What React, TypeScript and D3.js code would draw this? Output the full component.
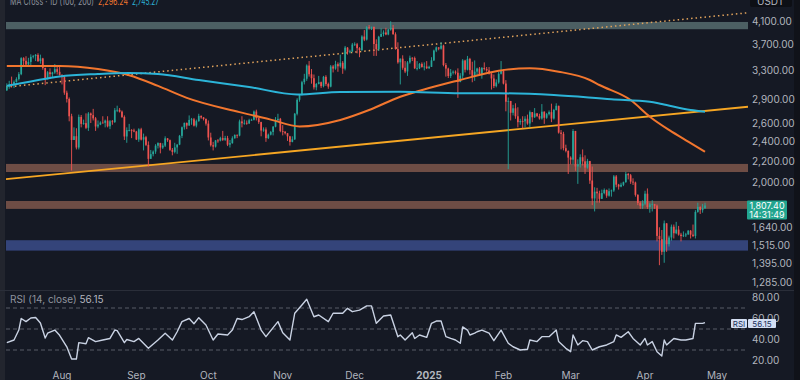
import React from 'react';
import * as d3 from 'd3';

// ---------- DATA ----------
const startDate = '2024-07-09';
const firstOpen = 3020;

const closes = [
  3066,3100,3098,3135,3175,3245,3485,3444,3387,3427,3505,3517,3536,3440,3481,3336,3173,3273,3245,3269,3318,3279,3232,
  3203,2988,2906,2690,2420,2461,2340,2682,2600,2609,2555,2723,2703,2665,2570,2592,2615,2612,2638,2572,2630,2622,2763,2768,2746,2682,2458,2529,2529,2525,2513,
  2425,2538,2424,2450,2368,2225,2272,2298,2359,2387,2340,2360,2438,2418,2316,2295,2341,2371,2465,2561,2612,2580,2646,2653,2580,2632,2694,2676,2657,2603,
  2447,2364,2350,2415,2414,2440,2422,2440,2370,2386,2438,2476,2468,2629,2607,2612,2604,2643,2648,2747,2667,2621,2524,2536,2440,2478,2508,2568,2640,2659,2519,
  2512,2494,2459,2399,2427,2720,2895,2961,3131,3180,3372,3244,3187,3060,3106,3131,3076,3207,3106,3070,3358,3327,3393,3361,3414,3326,3653,3580,3591,3703,
  3707,3644,3614,3838,3786,4002,3997,4007,3712,3627,3834,3881,3908,3873,3960,3986,3877,3629,3421,3477,3339,3284,3420,3491,3487,3332,3332,3397,3351,3358,3333,
  3353,3451,3605,3656,3635,3686,3380,3327,3218,3267,3281,3266,3135,3224,3449,3310,3474,3304,3214,3282,3328,3240,3336,3320,3300,3255,3183,3077,3128,3251,3300,
  3112,2870,2880,2732,2787,2690,2620,2633,2630,2660,2604,2740,2678,2724,2692,2663,2745,2672,2716,2740,2663,2766,2818,2501,2487,2333,2305,2237,
  2217,2519,2150,2171,2241,2200,2140,2203,2020,1865,1922,1908,1862,1910,1937,1888,1926,1932,2057,1983,1966,1982,2005,2080,2068,2010,2002,1895,1827,1805,1822,
  1905,1795,1816,1817,1806,1578,1555,1470,1669,1521,1567,1644,1597,1623,1587,1577,1582,1589,1615,1587,1578,1756,1796,1770,1786,1807,
];

const highs = [
  3115,3150,3210,3155,3200,3275,3500,3500,3515,3490,3545,3535,3550,3562,3540,3490,3340,3290,3330,3280,3395,3360,3350,
  3245,3220,3015,2925,2720,2560,2550,2710,2705,2650,2725,2740,2735,2780,2680,2640,2630,2690,2650,2690,2645,2645,2790,2820,2790,2760,2700,2560,2600,2540,2545,
  2520,2550,2555,2490,2465,2405,2315,2310,2375,2395,2390,2385,2460,2440,2425,2335,2390,2375,2475,2570,2615,2615,2700,2670,2670,2650,2720,2700,2680,2665,
  2640,2500,2400,2420,2430,2455,2520,2465,2465,2420,2460,2480,2480,2650,2690,2650,2640,2660,2660,2760,2770,2670,2625,2560,2560,2490,2520,2575,2680,2720,2670,
  2585,2515,2495,2465,2460,2730,2915,2970,3150,3250,3390,3440,3320,3240,3120,3220,3140,3220,3230,3125,3380,3380,3445,3420,3540,3440,3680,3660,3620,3730,
  3740,3730,3660,3860,3950,4020,4040,4010,4010,3790,3850,3980,3945,3990,3970,4107,4040,3910,3740,3480,3530,3440,3440,3525,3500,3510,3440,3410,3420,3420,3440,
  3370,3500,3620,3670,3660,3745,3700,3410,3340,3320,3300,3300,3330,3260,3470,3460,3520,3490,3430,3450,3340,3350,3350,3420,3350,3350,3260,3240,3170,3280,3440,
  3320,3160,2925,2880,2830,2850,2800,2660,2690,2690,2710,2760,2740,2790,2730,2720,2840,2750,2730,2760,2845,2780,2850,2820,2530,2510,2370,2310,
  2250,2540,2520,2220,2270,2320,2260,2225,2205,2150,1960,1955,1930,1940,1950,1940,1950,1940,2070,2070,1990,2000,2010,2100,2090,2080,2040,2010,1900,1840,1850,
  1930,1950,1830,1850,1820,1815,1640,1620,1690,1670,1580,1660,1660,1680,1650,1600,1610,1600,1620,1620,1660,1770,1830,1800,1820,1830,
];

const lows = [
  3010,3040,3060,3050,3125,3155,3230,3355,3380,3370,3380,3480,3440,3425,3400,3310,3090,3170,3200,3190,3250,3240,3225,
  3100,2960,2860,2630,2112,2420,2320,2320,2560,2590,2540,2520,2610,2640,2520,2550,2585,2605,2560,2560,2540,2590,2610,2740,2735,2670,2420,2390,2515,2440,2505,
  2420,2400,2415,2310,2355,2150,2225,2250,2275,2330,2280,2325,2345,2400,2305,2260,2280,2275,2365,2440,2535,2540,2580,2590,2570,2560,2625,2660,2640,2580,
  2415,2350,2310,2340,2390,2405,2410,2410,2355,2340,2380,2435,2440,2460,2560,2590,2590,2600,2635,2640,2640,2600,2460,2510,2400,2430,2470,2470,2560,2640,2505,
  2470,2480,2410,2360,2395,2420,2700,2870,2950,3100,3150,3210,3110,3030,3020,3100,3050,3060,3080,3040,3060,3270,3310,3280,3340,3250,3300,3540,3560,3580,
  3680,3560,3500,3600,3760,3770,3960,3950,3520,3520,3600,3830,3840,3860,3860,3940,3870,3620,3400,3100,3310,3260,3220,3400,3440,3320,3300,3320,3340,3300,3320,
  3320,3350,3440,3580,3610,3620,3360,3210,3190,3190,3240,3240,2920,3130,3180,3270,3300,3240,3130,3150,3220,3230,3180,3300,3280,3240,3030,3050,3060,3110,3240,
  3100,2750,2125,2640,2700,2660,2560,2590,2550,2560,2590,2560,2620,2670,2680,2650,2650,2600,2660,2700,2620,2650,2760,2490,2320,2310,2290,2080,
  2170,2170,2110,1990,2140,2160,2080,2130,1990,1810,1760,1830,1830,1860,1900,1870,1880,1880,1920,1960,1940,1960,1970,2000,2030,1990,1980,1880,1810,1780,1780,
  1810,1780,1750,1760,1780,1540,1385,1450,1400,1470,1505,1545,1560,1590,1580,1540,1570,1570,1585,1560,1570,1560,1750,1740,1750,1780,
];

const ma100Dates = ['2024-07-09','2024-07-31','2024-08-16','2024-08-29','2024-09-10','2024-09-22','2024-10-14','2024-10-27','2024-11-08','2024-11-25','2024-12-07','2024-12-20','2025-01-01','2025-01-14','2025-01-30','2025-02-12','2025-02-24','2025-03-09','2025-03-13','2025-03-26','2025-04-03','2025-04-11','2025-04-19','2025-04-26'];
const ma100Values = [3366,3366,3320,3230,3080,2920,2740,2650,2570,2646,2766,2935,3051,3162,3296,3331,3281,3162,3092,2892,2685,2531,2402,2296.24];

const ma200Dates = ['2024-07-09','2024-07-19','2024-07-31','2024-08-16','2024-08-29','2024-09-10','2024-09-27','2024-10-18','2024-11-07','2024-11-25','2024-12-20','2025-01-14','2025-01-30','2025-02-22','2025-03-18','2025-04-03','2025-04-08','2025-04-20','2025-04-26'];
const ma200Values = [3080,3141,3213,3248,3262,3248,3162,3065,2965,2997,3002,2980,2980,2957,2902,2870,2841,2766,2745.27];

const zoneLows = [3965, 2098, 1780, 1478];
const zoneHighs = [4095, 2175, 1844, 1548];

const trendDates = ['2024-07-14', '2025-05-13'];
const trendPrices = [2043, 2804];
const dottedDates = ['2024-07-09', '2025-05-13'];
const dottedPrices = [3065, 4262];

const priceTicks = [4100, 3700, 3300, 2900, 2600, 2400, 2200, 2000, 1640, 1515, 1395, 1285];
const rsiTicks = [80, 60, 40, 20];
const rsiLevels = [70, 50, 30];
const monthLabels = ['Aug', 'Sep', 'Oct', 'Nov', 'Dec', '2025', 'Feb', 'Mar', 'Apr', 'May'];
const monthDates = ['2024-08-01','2024-09-01','2024-10-01','2024-11-01','2024-12-01','2025-01-01','2025-02-01','2025-03-01','2025-04-01','2025-05-01'];

const rsiIdx = [0,3,5,6,8,10,12,14,16,17,20,22,25,27,29,30,33,34,37,40,43,45,46,49,50,53,55,59,63,66,69,71,73,76,78,80,83,86,88,92,94,96,98,101,103,106,108,113,115,118,120,123,125,128,130,134,136,140,142,144,147,150,152,154,157,160,163,164,166,169,170,172,175,177,179,181,183,185,187,189,190,192,193,195,196,198,201,203,206,209,211,214,217,218,221,223,226,229,230,233,235,236,238,240,242,244,247,250,253,254,256,259,261,264,266,267,269,271,273,274,275,278,281,283,286,287,288,290,291];
const rsiValues = [37,39.5,49,60,57,60.5,61,55.7,41.4,46,49,44,33,21.4,21.4,37,36,41.7,38,39.5,41,49,48.4,37,40,38,41,31.6,39.5,46,39.5,47.4,57,60,55,60.8,53.8,39.5,45.2,44.3,49,60,59,61.7,66.5,49,42.7,57,46.5,39.5,65,72.9,78.3,61.7,63.3,57,65,65,69.7,66.5,68,72,72,55.4,62.4,63.3,42.7,44.3,39.5,46.5,41,44.3,42,55.4,57.6,57.6,42.7,41,39.5,36.4,52,49,44.3,46,47.4,49,46,38.9,49,36.4,33.1,30,30.7,39.5,38,42.7,42.7,49,38,31.6,28.4,44.3,34.8,38.9,38,30,33.1,34.8,38,44.3,42,47.4,41,34.8,41,34.8,38,28.4,24.3,39.5,34.8,41,39.5,39.5,41,55.4,55.4,55.4,56.15];

const lastPrice = '1,807.40';
const countdown = '14:31:49';
const rsiLast = '56.15';
const ma100Label = '2,296.24';
const ma200Label = '2,745.27';

// ---------- LAYOUT ----------
const W = 800, H = 380;
const plotLeft = 6, plotRight = 748;
const paneBottom = 290;
const C = {
  bg: '#151924', up: '#26a69a', down: '#ef5350', ma100: '#f2762e', ma200: '#2cb4d8',
  trend: '#f6a623', dotted: '#e3a45c', text: '#b2b5be', sub: '#8f939d',
  zones: ['#4c5f63', '#6e4d45', '#6e4d45', '#34447a'],
};

const parse = (s: string) => new Date(s + 'T00:00:00Z');

export default function App() {
  const x = d3.scaleUtc().domain([parse('2024-08-01'), parse('2025-05-01')]).range([62, 717]);
  const y = d3.scaleLog().domain([1285, 4100]).range([282, 21.7]);
  const ry = d3.scaleLinear().domain([20, 80]).range([360.5, 297.5]);
  const start = parse(startDate);
  const dayAt = (i: number) => d3.utcDay.offset(start, i);

  const candles = closes.map((c, i) => {
    const o = i === 0 ? firstOpen : closes[i - 1];
    const h = Math.max(highs[i], o, c);
    const l = Math.min(lows[i], o, c);
    return { x: x(dayAt(i)), o, h, l, c };
  });

  const extLine = (dates: string[], prices: number[]) => {
    const x0 = x(parse(dates[0])), y0 = y(prices[0]);
    const x1 = x(parse(dates[1])), y1 = y(prices[1]);
    const k = (y1 - y0) / (x1 - x0);
    return { x1: plotLeft, y1: y0 + (plotLeft - x0) * k, x2: plotRight, y2: y0 + (plotRight - x0) * k };
  };
  const trend = extLine(trendDates, trendPrices);
  const dotted = extLine(dottedDates, dottedPrices);

  const maLine = d3.line<[string, number]>()
    .x(d => x(parse(d[0])))
    .y(d => y(d[1]))
    .curve(d3.curveMonotoneX);
  const ma100Path = maLine(ma100Dates.map((d, i) => [d, ma100Values[i]] as [string, number])) || '';
  const ma200Path = maLine(ma200Dates.map((d, i) => [d, ma200Values[i]] as [string, number])) || '';

  const rsiPath = d3.line<number>()
    .x((_, i) => x(dayAt(rsiIdx[i])))
    .y(v => ry(v))(rsiValues) || '';

  const font = 'Inter, "Noto Sans", sans-serif';

  return (
    <svg width={W} height={H} style={{ position: 'absolute', left: 0, top: 0, background: C.bg }} fontFamily={font}>
      <defs>
        <clipPath id="pane"><rect x={plotLeft} y={0} width={plotRight - plotLeft} height={paneBottom} /></clipPath>
      </defs>
      <rect x={0} y={0} width={W} height={H} fill={C.bg} />
      <rect x={0} y={0} width={5} height={H} fill="#22252e" />
      <line x1={0} x2={W} y1={paneBottom + 0.5} y2={paneBottom + 0.5} stroke="#2a2e39" />
      <rect x={794} y={0} width={6} height={H} fill="#101219" />

      <g clipPath="url(#pane)">
        {zoneLows.map((lo, i) => (
          <rect key={'z' + i} x={plotLeft} width={plotRight - plotLeft} y={y(zoneHighs[i])} height={y(lo) - y(zoneHighs[i])} fill={C.zones[i]} />
        ))}
        <line {...dotted} stroke={C.dotted} strokeWidth={1.5} strokeDasharray="1.5 3" />
        <line {...trend} stroke={C.trend} strokeWidth={1.8} />
        {candles.map((d, i) => {
          const col = d.c >= d.o ? C.up : C.down;
          const top = y(Math.max(d.o, d.c));
          const bot = y(Math.min(d.o, d.c));
          return (
            <g key={i}>
              <line x1={d.x} x2={d.x} y1={y(d.h)} y2={y(d.l)} stroke={col} strokeWidth={0.9} />
              <rect x={d.x - 0.85} width={1.7} y={top} height={Math.max(0.8, bot - top)} fill={col} />
            </g>
          );
        })}
        <path d={ma100Path} fill="none" stroke={C.ma100} strokeWidth={2} />
        <path d={ma200Path} fill="none" stroke={C.ma200} strokeWidth={2} />
      </g>

      {/* header (one text element, cut off at the top like the reference) */}
      <text y={4.5} fontSize={10}>
        <tspan x={10} fill={C.sub} textLength={84} lengthAdjust="spacingAndGlyphs">MA Cross · 1D (100, 200)</tspan>
        <tspan x={98} fill={C.ma100} textLength={30} lengthAdjust="spacingAndGlyphs">{ma100Label}</tspan>
        <tspan x={132} fill={C.ma200} textLength={27} lengthAdjust="spacingAndGlyphs">{ma200Label}</tspan>
      </text>
      <rect x={750} y={-4} width={42} height={11} rx={2} fill="#0d0f15" />
      <text x={757} y={4.5} fontSize={10} fill={C.text}>USDT</text>

      {/* price axis */}
      {priceTicks.map(t => (
        <text key={t} x={752} y={y(t) + 3.5} fontSize={10} fill={C.text}>{d3.format(',.2f')(t)}</text>
      ))}
      <rect x={747} y={200.5} width={40} height={19} rx={1} fill="#22a58f" />
      <text x={767} y={208.5} fontSize={9} fill="#ffffff" textAnchor="middle">
        <tspan x={767}>{lastPrice}</tspan>
        <tspan x={767} dy={9}>{countdown}</tspan>
      </text>

      {/* RSI pane */}
      <text x={10} y={303} fontSize={10} fill={C.sub}>RSI (14, close) <tspan fill={C.text}>{rsiLast}</tspan></text>
      {rsiLevels.map(v => (
        <line key={v} x1={plotLeft} x2={745} y1={ry(v)} y2={ry(v)} stroke="#6a6d78" strokeDasharray="4 3" strokeWidth={0.8} />
      ))}
      <path d={rsiPath} fill="none" stroke="#c9d2e3" strokeWidth={1.4} strokeLinejoin="round" />
      {rsiTicks.map(t => (
        <text key={t} x={752} y={ry(t) + 3.5} fontSize={10} fill={C.text}>{d3.format('.2f')(t)}</text>
      ))}
      <rect x={731} y={319} width={16} height={9} rx={1} fill="#d3def2" />
      <rect x={748} y={319} width={28} height={9} rx={1} fill="#d3def2" />
      <text y={326.5} fontSize={8} fill="#22315a" textAnchor="middle">
        <tspan x={739}>RSI</tspan>
        <tspan x={762}>{rsiLast}</tspan>
      </text>

      {/* time axis */}
      {monthLabels.map((m, i) => (
        <text key={m} x={x(parse(monthDates[i]))} y={379} fontSize={10} fill={C.text} textAnchor="middle" fontWeight={m === '2025' ? 700 : 400}>{m}</text>
      ))}
    </svg>
  );
}
